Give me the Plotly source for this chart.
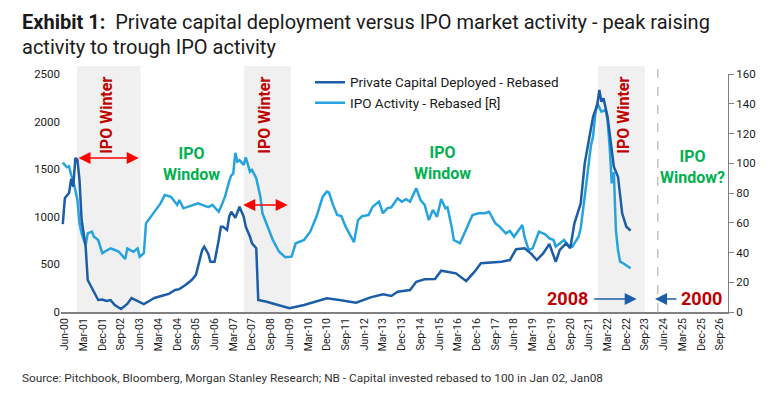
import plotly.graph_objects as go

# ---------------- data ----------------
pc_dates = ["2000-05","2000-06","2000-08","2000-09","2000-10","2000-11","2000-12","2001-01","2001-02","2001-04",
            "2001-05","2001-08","2001-10","2001-12","2002-02","2002-04","2002-06","2002-09","2002-12","2003-02",
            "2003-04","2003-06","2003-08","2003-10","2004-01","2004-06","2004-08","2004-11","2005-01","2005-04",
            "2005-07","2005-09","2005-10","2005-12","2006-01","2006-03","2006-04","2006-06","2006-08","2006-09",
            "2006-10","2006-12","2007-01","2007-02","2007-04","2007-05","2007-06","2007-08","2007-09","2007-11",
            "2007-12","2008-02","2008-03","2008-07","2008-12","2009-06","2010-01","2010-07","2010-12","2011-06",
            "2012-02","2012-09","2013-03","2013-07","2013-10","2014-04","2014-07","2014-11","2015-04","2015-07",
            "2015-10","2016-02","2016-07","2016-11","2017-02","2017-07","2017-12","2018-04","2018-07","2018-11",
            "2019-02","2019-05","2019-08","2019-11","2020-02","2020-04","2020-07","2020-09","2020-11","2021-02",
            "2021-04","2021-06","2021-08","2021-10","2021-11","2021-12","2022-01","2022-03","2022-05","2022-06",
            "2022-08","2022-09","2022-10","2022-12","2023-02"]
pc_values = [924,1197,1250,1400,1316,1617,1600,1386,966,686,
             336,200,126,130,115,125,74,32,84,147,
             126,108,84,108,147,178,190,231,240,284,
             336,390,476,651,686,610,528,528,756,896,
             896,861,1001,1053,990,1053,1106,1001,896,791,
             721,669,126,108,74,39,74,108,144,126,
             98,154,186,168,213,231,318,343,347,434,
             424,406,326,424,512,518,528,546,659,669,
             616,546,616,714,528,651,721,670,931,1141,
             1562,1807,2051,2174,2332,2209,2244,2051,1736,1526,
             1421,1211,1037,896,854]

ipo_dates = ["2000-05","2000-07","2000-08","2000-09","2000-10","2000-12","2001-01","2001-02","2001-04","2001-05",
             "2001-07","2001-08","2001-10","2001-12","2002-01","2002-04","2002-06","2002-08","2002-11","2002-12",
             "2003-03","2003-05","2003-06","2003-08","2003-09","2003-12","2004-02","2004-04","2004-06","2004-09",
             "2004-12","2005-01","2005-03","2005-05","2005-08","2005-10","2005-12","2006-03","2006-05","2006-08",
             "2006-09","2006-11","2007-01","2007-02","2007-03","2007-04","2007-05","2007-06","2007-08","2007-09",
             "2007-11","2007-12","2008-02","2008-04","2008-05","2008-08","2008-10","2009-01","2009-04","2009-07",
             "2009-09","2010-01","2010-04","2010-07","2010-10","2010-12","2011-01","2011-03","2011-05","2011-07",
             "2011-09","2012-01","2012-03","2012-05","2012-08","2012-10","2013-01","2013-03","2013-05","2013-07",
             "2013-10","2013-12","2014-02","2014-04","2014-07","2014-09","2014-11","2015-01","2015-03","2015-05",
             "2015-07","2015-09","2015-10","2015-12","2016-01","2016-04","2016-07","2016-10","2017-01","2017-04",
             "2017-06","2017-09","2017-11","2018-02","2018-04","2018-06","2018-10","2018-11","2019-01","2019-03",
             "2019-06","2019-09","2019-11","2020-01","2020-02","2020-04","2020-06","2020-08","2020-10","2021-01",
             "2021-02","2021-04","2021-06","2021-07","2021-08","2021-09","2021-10","2021-12","2022-02","2022-03",
             "2022-04","2022-05","2022-06","2022-07","2022-08","2022-09","2022-11","2023-02"]
ipo_values = [100.4,97.3,98,92,88.7,75.3,59.6,52.9,45,52.9,
              54,50.6,48.4,39.5,40.5,42.8,41.7,40.5,35.6,42.8,
              40.5,42.8,37.2,39.5,59.6,65.2,68.6,73,78.7,77.5,
              72,75.3,69.7,70.5,72,73,72,70.5,72,67.4,
              70.5,77.5,88,92,93,107,101,102,98.8,104,
              94.3,95.5,89.9,77.5,66.4,55.1,48.4,40.5,36.8,37.2,
              46.2,48.4,54,64,77.5,80.9,80.2,72,65.2,64.5,
              57.4,46.9,61.8,64.5,65.2,70.8,74.2,66.4,69.7,70.4,
              76.4,74.2,75.8,74.2,83.2,75.3,72,61.8,68.6,64,
              76,69.7,70.4,57.4,48.4,46.2,55.1,65.2,66.4,66.4,
              67.4,59.6,57.4,52.9,54.5,50.6,58.5,50.6,41.7,42.8,
              54,52.2,49.5,48.4,43.9,46,48.4,45,43.9,50.6,
              56.3,77.5,102,112,118,132.4,140.3,134.7,135.8,129,
              111,86.5,94,55,41.7,33.8,32.3,29.4]

winter_starts = ["2000-11-25", "2007-08-03", "2021-10-10"]
winter_ends = ["2003-06-15", "2009-06-21", "2023-08-28"]

DARK = "#1B5DA6"
LIGHT = "#26A3DE"
RED = "#C00000"
GREEN = "#00B050"
FONT = "Roboto"
BOLD = "Roboto, sans-serif"

fig = go.Figure()
fig.add_trace(go.Scatter(x=pc_dates, y=pc_values, name="Private Capital Deployed - Rebased",
                         mode="lines", line=dict(color=DARK, width=2.5), yaxis="y2"))
fig.add_trace(go.Scatter(x=ipo_dates, y=ipo_values, name="IPO Activity - Rebased [R]",
                         mode="lines", line=dict(color=LIGHT, width=2.5), yaxis="y"))

shapes = []
for s, e in zip(winter_starts, winter_ends):
    shapes.append(dict(type="rect", xref="x", yref="paper", x0=s, x1=e, y0=0, y1=1.034,
                       fillcolor="#F0F0F0", line=dict(width=0), layer="below"))
shapes.append(dict(type="line", xref="x", yref="paper", x0="2024-03-06", x1="2024-03-06", y0=0, y1=1.059,
                   line=dict(color="#A6A6A6", width=1, dash="dash"), layer="below"))

ann = []
def txt(x, y, t, color, size=17, angle=0):
    ann.append(dict(x=x, y=y, xref="x", yref="paper", text=t, showarrow=False, textangle=angle,
                    xanchor="center", yanchor="middle",
                    font=dict(family=BOLD, size=size, color=color, weight="bold"), align="center"))

for x in ["2002-02-06", "2008-06-06", "2022-10-25"]:
    txt(x, 0.828, "IPO Winter", RED, size=16, angle=-90)
txt("2005-07-03", 0.622, "IPO<br>Window", GREEN, size=16)
txt("2015-07-24", 0.626, "IPO<br>Window", GREEN, size=16)
txt("2025-08-01", 0.609, "IPO<br>Window?", GREEN, size=16)
txt("2020-07-28", 0.055, "2008", RED, size=18)
txt("2025-12-10", 0.055, "2000", RED, size=18)

def arrow(head, tail, y, color, both=False):
    ann.append(dict(x=head, ax=tail, axref="x", y=y, ay=0, ayref="pixel", xref="x", yref="paper",
                    text="", showarrow=True, arrowhead=2, arrowsize=1.6, arrowwidth=1.5,
                    arrowcolor=color, startarrowhead=2, startarrowsize=1.6,
                    arrowside="end+start" if both else "end"))

arrow("2003-05-18", "2000-11-25", 0.647, "#FF0000", both=True)
arrow("2009-05-06", "2007-07-03", 0.450, "#FF0000", both=True)
arrow("2023-05-01", "2021-07-27", 0.055, DARK)
arrow("2024-01-25", "2024-12-25", 0.055, DARK)

# title lines and source note
ann.append(dict(x=-41/667, y=(312 - 22)/238, xref="paper", yref="paper", xanchor="left", yanchor="middle",
                showarrow=False,
                text="<b>Exhibit 1:</b>  Private capital deployment versus IPO market activity - peak raising",
                font=dict(family=FONT, size=20, color="#1a1a1a")))
ann.append(dict(x=-41/667, y=(312 - 47)/238, xref="paper", yref="paper", xanchor="left", yanchor="middle",
                showarrow=False, text="activity to trough IPO activity",
                font=dict(family=FONT, size=20, color="#1a1a1a")))
ann.append(dict(x=-41/667, y=-(378 - 312)/238, xref="paper", yref="paper", xanchor="left",
                yanchor="middle", showarrow=False,
                text="Source: Pitchbook, Bloomberg, Morgan Stanley Research; NB - Capital invested rebased to 100 in Jan 02, Jan08",
                font=dict(family=FONT, size=11.8, color="#333333")))

fig.update_layout(
    width=768, height=394,
    margin=dict(l=61, r=40, t=74, b=82, autoexpand=False),
    paper_bgcolor="white", plot_bgcolor="white",
    font=dict(family=FONT, color="#1a1a1a"),
    showlegend=True,
    legend=dict(x=(310 - 61)/667, y=1.03, xanchor="left", yanchor="top", bgcolor="rgba(0,0,0,0)",
                font=dict(family=FONT, size=13.5, color="#1a1a1a"), itemwidth=30),
    xaxis=dict(type="date", range=["2000-04-05", "2026-12-28"], tick0="2000-06-01", dtick="M9",
               tickformat="%b-%y", tickangle=-90, showgrid=False, zeroline=False,
               showline=True, linecolor="#808080", linewidth=2, ticks="", automargin=False,
               tickfont=dict(family=FONT, size=10.5, color="#1a1a1a")),
    yaxis=dict(range=[0, 160], dtick=20, side="right", showgrid=False, zeroline=False,
               showline=True, linecolor="#808080", linewidth=1, ticks="outside", ticklen=5,
               tickcolor="#808080", automargin=False,
               tickfont=dict(family=FONT, size=11.5, color="#1a1a1a")),
    yaxis2=dict(range=[0, 2500], dtick=500, side="left", overlaying="y", showgrid=False, zeroline=False,
                showline=False, ticks="", automargin=False,
                tickfont=dict(family=FONT, size=11.5, color="#1a1a1a")),
    shapes=shapes,
    annotations=ann,
)

fig.write_html("out.html", config={"displayModeBar": False},
               post_script="document.body.style.margin='0';")
